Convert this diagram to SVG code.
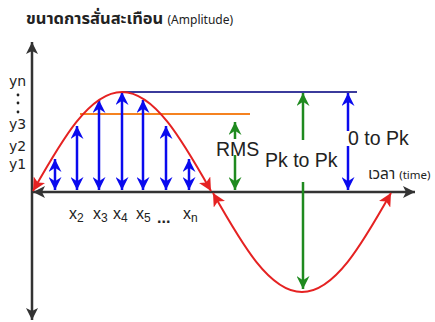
<svg xmlns="http://www.w3.org/2000/svg" width="435" height="322" viewBox="0 0 435 322">
<style>
.ax{stroke:#333;stroke-width:2.5;fill:none}
.sine{stroke:#e52222;stroke-width:2;fill:none}
.bl{stroke:#0a0aee;stroke-width:2.5;fill:none}
.gr{stroke:#1f8a1f;stroke-width:2.5;fill:none}
.lbl{font-family:"Liberation Sans",Arial,sans-serif;fill:#222}
.yl{font-family:"DejaVu Sans",sans-serif;font-size:14px;fill:#222}
.th{font-family:"Noto Sans Thai","Noto Sans","DejaVu Sans",sans-serif;fill:#222}
</style>
<defs>
<marker id="mBlk" viewBox="0 0 12 12" refX="12" refY="6" markerWidth="12" markerHeight="12" markerUnits="userSpaceOnUse" orient="auto-start-reverse"><path d="M0,0 L12,6 L0,12 L3,6 Z" fill="#333"/></marker>
<marker id="mRed" viewBox="0 0 12 12" refX="12" refY="6" markerWidth="13" markerHeight="13" markerUnits="userSpaceOnUse" orient="auto-start-reverse"><path d="M0,0 L12,6 L0,12 L3,6 Z" fill="#e52222"/></marker>
<marker id="mBlu" viewBox="0 0 12 12" refX="12" refY="6" markerWidth="13" markerHeight="13" markerUnits="userSpaceOnUse" orient="auto-start-reverse"><path d="M0,0 L12,6 L0,12 L4,6 Z" fill="#0a0aee"/></marker>
<marker id="mGrn" viewBox="0 0 12 12" refX="12" refY="6" markerWidth="13" markerHeight="13" markerUnits="userSpaceOnUse" orient="auto-start-reverse"><path d="M0,0 L12,6 L0,12 L4,6 Z" fill="#1f8a1f"/></marker>
</defs>

<g id="title">
<text class="th" x="26" y="24" font-size="16.5" font-weight="bold">ขนาดการสั่นสะเทือน <tspan font-size="12" font-weight="normal">(Amplitude)</tspan></text>
</g>

<g id="axes">
<line class="ax" x1="32" y1="320" x2="32" y2="42" marker-end="url(#mBlk)" marker-start="url(#mBlk)"/>
<line class="ax" x1="33" y1="192" x2="415" y2="192" marker-end="url(#mBlk)" marker-start="url(#mBlk)"/>
</g>

<g id="levels">
<line x1="122" y1="92" x2="357" y2="92" stroke="#3b3b9c" stroke-width="1.8"/>
<line x1="80" y1="114" x2="250" y2="114" stroke="#f58220" stroke-width="1.8"/>
</g>

<g id="connectors">
<g id="samples">
<line class="bl" x1="55" y1="159" x2="55" y2="190" marker-start="url(#mBlu)" marker-end="url(#mBlu)"/>
<line class="bl" x1="77" y1="126" x2="77" y2="190" marker-start="url(#mBlu)" marker-end="url(#mBlu)"/>
<line class="bl" x1="99" y1="100" x2="99" y2="190" marker-start="url(#mBlu)" marker-end="url(#mBlu)"/>
<line class="bl" x1="122" y1="92" x2="122" y2="190" marker-start="url(#mBlu)" marker-end="url(#mBlu)"/>
<line class="bl" x1="143" y1="100" x2="143" y2="190" marker-start="url(#mBlu)" marker-end="url(#mBlu)"/>
<line class="bl" x1="166" y1="126" x2="166" y2="190" marker-start="url(#mBlu)" marker-end="url(#mBlu)"/>
<line class="bl" x1="189" y1="159" x2="189" y2="190" marker-start="url(#mBlu)" marker-end="url(#mBlu)"/>
</g>
<line class="gr" x1="235" y1="122" x2="235" y2="190" marker-start="url(#mGrn)" marker-end="url(#mGrn)"/>
<line class="gr" x1="303" y1="140" x2="303" y2="93" marker-end="url(#mGrn)"/>
<line class="gr" x1="303" y1="182" x2="303" y2="289" marker-end="url(#mGrn)"/>
<line class="bl" x1="348" y1="93" x2="348" y2="190" marker-start="url(#mBlu)" marker-end="url(#mBlu)"/>
</g>

<g id="wave">
<path class="sine" d="M33,191 C62.1,139.5 89.6,92 122,92 C154.4,92 181.9,139.5 211,191" marker-start="url(#mRed)" marker-end="url(#mRed)"/>
<path class="sine" d="M213,193 C242.1,244.5 269.6,292 302,292 C334.4,292 361.9,244.5 391,193" marker-start="url(#mRed)" marker-end="url(#mRed)"/>
</g>

<g id="ylabels">
<text class="yl" x="9" y="86">yn</text>
<circle cx="18" cy="95" r="1.4" fill="#222"/>
<circle cx="18" cy="103" r="1.4" fill="#222"/>
<circle cx="18" cy="112" r="1.4" fill="#222"/>
<text class="yl" x="9" y="129">y3</text>
<text class="yl" x="9" y="151">y2</text>
<text class="yl" x="9" y="169">y1</text>
</g>

<g id="xlabels" class="lbl" font-size="16">
<text x="69" y="219">x<tspan font-size="12" dy="3">2</tspan></text>
<text x="93" y="219">x<tspan font-size="12" dy="3">3</tspan></text>
<text x="113" y="219">x<tspan font-size="12" dy="3">4</tspan></text>
<text x="136" y="219">x<tspan font-size="12" dy="3">5</tspan></text>
<text x="157" y="223" font-weight="bold">...</text>
<text x="183" y="219">x<tspan font-size="12" dy="3">n</tspan></text>
</g>

<g id="rms">
<rect x="218" y="139" width="42" height="16" fill="#fff"/>
<text class="lbl" x="216" y="156" font-size="19.5">RMS</text>
</g>
<g id="pk2pk">
<text class="lbl" x="265" y="167" font-size="19.5">Pk to Pk</text>
</g>
<g id="zero2pk">
<rect x="346" y="131" width="10" height="15" fill="#fff"/>
<text class="lbl" x="348" y="145" font-size="19.5">0 to Pk</text>
</g>
<g id="time">
<text class="th" x="368" y="179" font-size="15.5">เวลา <tspan font-size="11.5">(time)</tspan></text>
</g>
</svg>
